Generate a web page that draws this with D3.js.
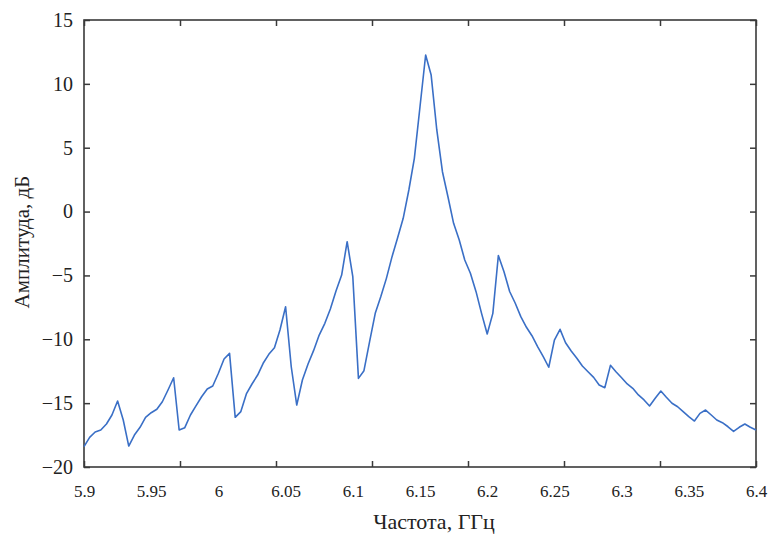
<!DOCTYPE html>
<html>
<head>
<meta charset="utf-8">
<script src="https://cdn.jsdelivr.net/npm/d3@7"></script>
<style>
  html, body { margin: 0; padding: 0; background: #fff; }
  svg { display: block; }
  text { font-family: "Liberation Serif", "Times New Roman", serif; fill: #222; }
</style>
</head>
<body>
<svg id="chart" width="768" height="534"></svg>
<script>
// Frequency, GHz
const freq = [
  5.9, 5.9042, 5.9083, 5.9125, 5.9167, 5.9208, 5.925, 5.9292, 5.9333, 5.9375, 5.9417, 5.9458,
  5.95, 5.9542, 5.9583, 5.9625, 5.9667, 5.9708, 5.975, 5.9792, 5.9833, 5.9875, 5.9917, 5.9958,
  6.0, 6.0042, 6.0083, 6.0125, 6.0167, 6.0208, 6.025, 6.0292, 6.0333, 6.0375, 6.0417, 6.0458,
  6.05, 6.0542, 6.0583, 6.0625, 6.0667, 6.0708, 6.075, 6.0792, 6.0833, 6.0875, 6.0917, 6.0958,
  6.1, 6.1042, 6.1083, 6.1125, 6.1167, 6.1208, 6.125, 6.1292, 6.1333, 6.1375, 6.1417, 6.1458,
  6.15, 6.1542, 6.1583, 6.1625, 6.1667, 6.1708, 6.175, 6.1792, 6.1833, 6.1875, 6.1917, 6.1958,
  6.2, 6.2042, 6.2083, 6.2125, 6.2167, 6.2208, 6.225, 6.2292, 6.2333, 6.2375, 6.2417, 6.2458,
  6.25, 6.2542, 6.2583, 6.2625, 6.2667, 6.2708, 6.275, 6.2792, 6.2833, 6.2875, 6.2917, 6.2958,
  6.3, 6.3042, 6.3083, 6.3125, 6.3167, 6.3208, 6.325, 6.3292, 6.3333, 6.3375, 6.3417, 6.3458,
  6.35, 6.3542, 6.3583, 6.3625, 6.3667, 6.3708, 6.375, 6.3792, 6.3833, 6.3875, 6.3917, 6.3958,
  6.4
];
// Amplitude, dB
const amplitude = [
  -18.41, -17.68, -17.26, -17.10, -16.63, -15.93, -14.83, -16.32, -18.36, -17.50, -16.89, -16.11,
  -15.75, -15.48, -14.89, -13.97, -13.01, -17.10, -16.92, -15.93, -15.22, -14.50, -13.89, -13.66,
  -12.66, -11.54, -11.10, -16.11, -15.66, -14.28, -13.50, -12.80, -11.88, -11.18, -10.66, -9.27,
  -7.45, -12.15, -15.15, -13.19, -11.94, -10.89, -9.67, -8.75, -7.63, -6.22, -4.97, -2.36,
  -5.10, -13.06, -12.46, -10.19, -7.97, -6.67, -5.23, -3.53, -2.07, -0.53, 1.69, 4.17,
  8.21, 12.26, 10.69, 6.39, 3.12, 1.16, -0.92, -2.23, -3.79, -4.83, -6.27, -7.97,
  -9.59, -7.97, -3.44, -4.71, -6.26, -7.16, -8.23, -9.06, -9.72, -10.58, -11.36, -12.19,
  -10.06, -9.22, -10.27, -10.92, -11.49, -12.09, -12.54, -12.98, -13.58, -13.79, -12.04, -12.54,
  -13.01, -13.50, -13.84, -14.36, -14.75, -15.22, -14.62, -14.05, -14.54, -15.01, -15.28, -15.67,
  -16.06, -16.40, -15.80, -15.54, -15.93, -16.32, -16.53, -16.85, -17.21, -16.89, -16.63, -16.89,
  -17.10
];
// Tick labels
const xTickLabels = [5.9, 5.95, 6.0, 6.05, 6.1, 6.15, 6.2, 6.25, 6.3, 6.35, 6.4];
const yTickLabels = [15, 10, 5, 0, -5, -10, -15, -20];
const xDomain = [5.9, 6.4];
const yDomain = [-20, 15];
const xTickMarkCount = 7; // intervals of the tick marks on top/bottom frame
const xTitle = "Частота, ГГц";
const yTitle = "Амплитуда, дБ";

const svg = d3.select("#chart");
const m = { left: 84, right: 756, top: 20, bottom: 467 };

const x = d3.scaleLinear().domain(xDomain).range([m.left, m.right]);
const y = d3.scaleLinear().domain(yDomain).range([m.bottom, m.top]);

const frameColor = "#3a3a3a";
const tickLen = 6;

// tick mark positions for x (evenly spaced, not aligned with labels, as in reference)
const xMarks = d3.range(xTickMarkCount + 1).map(k => xDomain[0] + k * (xDomain[1] - xDomain[0]) / xTickMarkCount);

// Bottom axis: labels
const xAxisLabels = d3.axisBottom(x).tickValues(xTickLabels).tickSize(0).tickPadding(18)
  .tickFormat(d => d3.format("~g")(+d.toFixed(2)));
const gxl = svg.append("g").attr("transform", `translate(0,${m.bottom})`).call(xAxisLabels);
gxl.select(".domain").remove();
gxl.selectAll("text").attr("font-size", 17).attr("fill", "#222")
  .attr("font-family", "Liberation Serif, Times New Roman, serif");

// Bottom tick marks (inward)
const gxb = svg.append("g").attr("transform", `translate(0,${m.bottom})`)
  .call(d3.axisTop(x).tickValues(xMarks).tickSize(tickLen).tickFormat(""));
gxb.select(".domain").remove();
gxb.selectAll("line").attr("stroke", frameColor).attr("stroke-width", 1.5);

// Top tick marks (inward)
const gxt = svg.append("g").attr("transform", `translate(0,${m.top})`)
  .call(d3.axisBottom(x).tickValues(xMarks).tickSize(tickLen).tickFormat(""));
gxt.select(".domain").remove();
gxt.selectAll("line").attr("stroke", frameColor).attr("stroke-width", 1.5);

// Left axis: inward ticks with labels outside
const gyl = svg.append("g").attr("transform", `translate(${m.left},0)`)
  .call(d3.axisRight(y).tickValues(yTickLabels).tickSize(tickLen).tickFormat(""));
gyl.select(".domain").remove();
gyl.selectAll("line").attr("stroke", frameColor).attr("stroke-width", 1.5);

const gyLabels = svg.append("g").attr("transform", `translate(${m.left},0)`)
  .call(d3.axisLeft(y).tickValues(yTickLabels).tickSize(0).tickPadding(11).tickFormat(d3.format("d")));
gyLabels.select(".domain").remove();
gyLabels.selectAll("text").attr("font-size", 20).attr("fill", "#222")
  .attr("font-family", "Liberation Serif, Times New Roman, serif");

// Right axis ticks (inward)
const gyr = svg.append("g").attr("transform", `translate(${m.right},0)`)
  .call(d3.axisLeft(y).tickValues(yTickLabels).tickSize(tickLen).tickFormat(""));
gyr.select(".domain").remove();
gyr.selectAll("line").attr("stroke", frameColor).attr("stroke-width", 1.5);

// Frame
svg.append("rect")
  .attr("x", m.left).attr("y", m.top)
  .attr("width", m.right - m.left).attr("height", m.bottom - m.top)
  .attr("fill", "none").attr("stroke", frameColor).attr("stroke-width", 1.6);

// Data line
const data = freq.map((f, i) => ({ f, a: amplitude[i] }));
svg.append("path")
  .datum(data)
  .attr("fill", "none")
  .attr("stroke", "#3a6fc6")
  .attr("stroke-width", 1.6)
  .attr("stroke-linejoin", "round")
  .attr("d", d3.line().x(d => x(d.f)).y(d => y(d.a)));

// Titles
svg.append("text")
  .attr("x", 434).attr("y", 529)
  .attr("text-anchor", "middle")
  .attr("font-size", 22)
  .text(xTitle);

svg.append("text")
  .attr("transform", "translate(29,242) rotate(-90)")
  .attr("text-anchor", "middle")
  .attr("font-size", 21)
  .text(yTitle);
</script>
</body>
</html>
